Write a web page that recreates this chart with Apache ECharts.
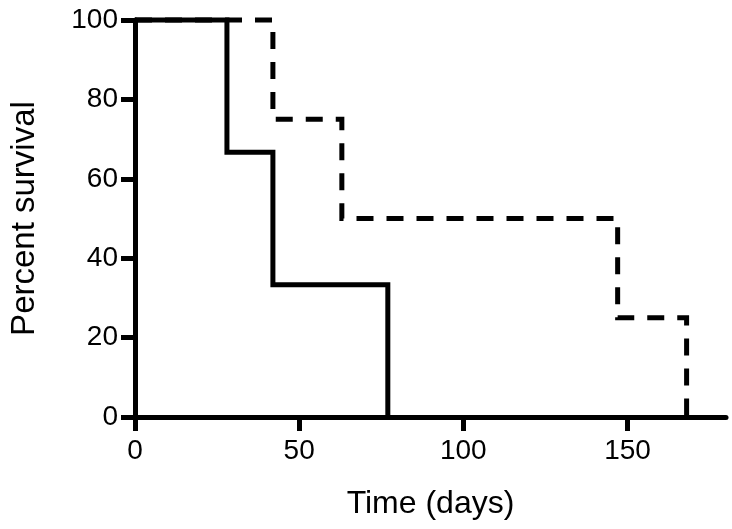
<!DOCTYPE html>
<html>
<head>
<meta charset="utf-8">
<script src="https://cdn.jsdelivr.net/npm/echarts@6/dist/echarts.min.js"></script>
<style>html,body{margin:0;padding:0;background:#fff;}#chart{width:732px;height:529px;}</style>
</head>
<body>
<div id="chart"></div>
<script>
// Kaplan-Meier steps (time in days, percent survival)
var solidTimes = [0, 28, 42, 77];
var solidSurvival = [100, 66.67, 33.33, 0];
var dashedTimes = [0, 42, 63, 147, 168];
var dashedSurvival = [100, 75, 50, 25, 0];
var xTicks = [0, 50, 100, 150];
var yTicks = [0, 20, 40, 60, 80, 100];
var xTitle = 'Time (days)';
var yTitle = 'Percent survival';

function pairs(xs, ys) { return xs.map(function (x, i) { return [x, ys[i]]; }); }

var font = 'Arial, "Liberation Sans", sans-serif';
var chart = echarts.init(document.getElementById('chart'), null, {renderer: 'canvas'});
chart.setOption({
  animation: false,
  backgroundColor: '#fff',
  grid: {left: 127.5, right: 6, top: 20, bottom: 112, containLabel: false},
  xAxis: {
    type: 'value', min: 0, max: 180, interval: 50,
    name: xTitle, nameLocation: 'middle', nameGap: 71,
    nameTextStyle: {fontFamily: font, fontSize: 32, color: '#000'},
    axisLine: {onZero: false, lineStyle: {color: '#000', width: 5}},
    axisTick: {show: true, inside: false, length: 14, customValues: xTicks, lineStyle: {color: '#000', width: 5}},
    axisLabel: {fontFamily: font, fontSize: 28, color: '#000', margin: 20, customValues: xTicks},
    splitLine: {show: false}
  },
  yAxis: {
    type: 'value', min: 0, max: 100, interval: 20,
    name: yTitle, nameLocation: 'middle', nameGap: 94,
    nameTextStyle: {fontFamily: font, fontSize: 33, color: '#000'},
    axisLine: {onZero: false, lineStyle: {color: '#000', width: 5}},
    axisTick: {show: true, inside: false, length: 14, customValues: yTicks, lineStyle: {color: '#000', width: 5}},
    axisLabel: {fontFamily: font, fontSize: 28, color: '#000', margin: 17, customValues: yTicks},
    splitLine: {show: false}
  },
  series: [
    {
      type: 'line', step: 'end', clip: false, symbol: 'none', z: 2,
      data: pairs(dashedTimes, dashedSurvival),
      lineStyle: {color: '#000', width: 5, type: [17, 13], cap: 'butt', join: 'miter'}
    },
    {
      type: 'line', step: 'end', clip: false, symbol: 'none', z: 3,
      data: pairs(solidTimes, solidSurvival),
      lineStyle: {color: '#000', width: 5, type: 'solid', cap: 'butt', join: 'miter'}
    }
  ]
});
</script>
</body>
</html>
